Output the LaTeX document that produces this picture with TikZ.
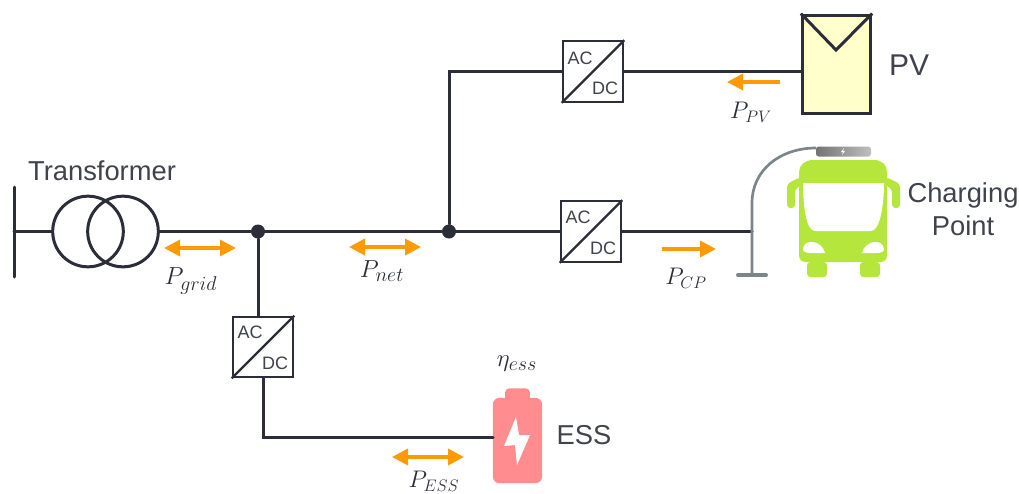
\documentclass[tikz,border=0pt]{standalone}
\usepackage{fix-cm}
\usepackage{xcolor}
\usepackage{amsmath}
\usepackage{fontspec}
\setmainfont{Liberation Sans}
\usetikzlibrary{arrows.meta,positioning}
\DeclareMathSizes{18}{18}{12.5}{10}
\DeclareMathSizes{18.5}{18.5}{15}{11}
\definecolor{wireink}{HTML}{2B2D38}
\definecolor{flowbrand}{HTML}{FF9A05}
\definecolor{busbrand}{HTML}{B5E63C}
\definecolor{essbrand}{HTML}{FF8C8F}
\definecolor{pvbrand}{HTML}{FFFFCC}
\definecolor{polegray}{HTML}{7C858A}

\begin{document}
\begin{tikzpicture}[
  x=0.75pt, y=-0.75pt,
  wire/.style={draw=wireink, line width=2.25pt, line cap=round},
  diag/.style={draw=wireink, line width=1.7pt},
  coil/.style={circle, draw=wireink, line width=2.25pt, minimum size=53pt, inner sep=0pt},
  joint/.style={circle, fill=wireink, minimum size=10.5pt, inner sep=0pt},
  conv/.style={draw=wireink, line width=1.5pt, fill=white, minimum size=45.5pt, inner sep=0pt},
  convtext/.style={text=wireink!90, font=\fontsize{13.5pt}{15pt}\selectfont, inner sep=0pt},
  devname/.style={text=wireink!90, font=\fontsize{20.5pt}{24pt}\selectfont, inner sep=0pt, align=center},
  capslabel/.style={text=wireink, font=\fontsize{18pt}{20pt}\selectfont, inner sep=0pt},
  lowerlabel/.style={text=wireink, font=\fontsize{18.5pt}{20pt}\selectfont, inner sep=0pt},
  oneway/.style={-{Triangle[length=12pt, width=12pt]}, draw=flowbrand, line width=2.6pt},
  twoway/.style={{Triangle[length=12pt, width=12pt]}-{Triangle[length=12pt, width=12pt]}, draw=flowbrand, line width=2.6pt}
]
\useasboundingbox (0,0) rectangle (1019,493);

\node[coil] (coilA) at (88,231.5) {};
\node[coil] (coilB) at (123,231.5) {};
\coordinate (busTop) at (14,187);
\coordinate (busBot) at (14,277);
\coordinate (busTap) at (14,231.5);
\node[devname] (trafoName) at (102,171) {Transformer};

\node[joint] (jointGrid) at (258,231.5) {};
\node[joint] (jointNet) at (449,231.5) {};

\node[conv] (convPV) at (593,71.5) {};
\node[convtext] (acPV) at (580,58) {AC};
\node[convtext] (dcPV) at (605,88) {DC};
\node[conv] (convCP) at (591,231.5) {};
\node[convtext] (acCP) at (578,217) {AC};
\node[convtext] (dcCP) at (603,248) {DC};
\node[conv] (convESS) at (263,347) {};
\node[convtext] (acESS) at (250,332) {AC};
\node[convtext] (dcESS) at (275,363) {DC};

\node[draw=wireink, line width=2.4pt, fill=pvbrand, minimum width=51pt, minimum height=74pt, inner sep=0pt] (pv) at (836.5,64.5) {};
\coordinate (pvTip) at (836,50);
\node[devname, font=\fontsize{22.5pt}{24pt}\selectfont] (pvName) at (909,65) {PV};

% charging point
\coordinate (poleFoot) at (752,275);
\coordinate (poleTap) at (752,231.5);
\coordinate (baseL) at (738,275);
\coordinate (baseR) at (766,275);
\coordinate (headIn) at (816,148);
\shade[left color=black!55, right color=black!25, rounded corners=2pt] (816,146.5) rectangle (871,156.5);
\fill[white] (844,148) -- (841,152) -- (843,152) -- (842,155) -- (845,151) -- (843,151) -- cycle;

% bus
\fill[busbrand] (799,172) .. controls (799,165) and (805,160) .. (813,160) -- (874,160)
  .. controls (882,160) and (887,165) .. (887,172) -- (887,255)
  .. controls (887,260) and (884,262) .. (880,262) -- (806,262)
  .. controls (802,262) and (799,260) .. (799,255) -- cycle;
\fill[busbrand, rounded corners=2.5pt] (800,177) -- (787,184) -- (787,208) -- (795,208) -- (795,189) -- (802,185) -- cycle;
\fill[busbrand, rounded corners=2.5pt] (886,177) -- (900,184) -- (900,208) -- (892,208) -- (892,189) -- (885,185) -- cycle;
\fill[busbrand, rounded corners=2.5pt] (807,262) rectangle (827,277);
\fill[busbrand, rounded corners=2.5pt] (860,262) rectangle (880,277);
\fill[white] (803,183) -- (884,183) .. controls (884,205) and (880,231) .. (871,231) -- (815,231)
  .. controls (806,231) and (803,205) .. (803,183) -- cycle;
\fill[white] (803,249) .. controls (804,238) and (822,240) .. (825,253) -- (811,253) .. controls (806,253) and (803,252) .. (803,249) -- cycle;
\fill[white] (884,249) .. controls (883,238) and (865,240) .. (862,253) -- (876,253) .. controls (881,253) and (884,252) .. (884,249) -- cycle;
\node[devname] (cpName) at (963,209) {Charging\\[1pt]Point};

% battery
\node[fill=essbrand, rounded corners=3pt, minimum width=18.5pt, minimum height=10pt, inner sep=0pt] (essCap) at (517.5,395) {};
\node[fill=essbrand, rounded corners=5pt, minimum width=37pt, minimum height=64pt, inner sep=0pt] (ess) at (517.5,440.5) {};
\fill[white] (516,417) -- (504,446) -- (515,445) -- (517,465) -- (530,435) -- (519,435) -- cycle;
\coordinate (essTap) at (493,437);
\node[devname] (essName) at (584,435) {ESS};
\node[lowerlabel] (etaESS) at (517,364) {$\eta_{ess}$};

\coordinate (gridA) at (164,248);
\coordinate (gridB) at (236,248);
\coordinate (netA) at (349,247);
\coordinate (netB) at (421,247);
\coordinate (cpA) at (662,249);
\coordinate (cpB) at (716,249);
\coordinate (pvA) at (780,82);
\coordinate (pvB) at (727,82);
\coordinate (essA) at (392,457);
\coordinate (essB) at (464,457);

\node[lowerlabel] (labelGrid) at (191,281) {$P_{grid}$};
\node[lowerlabel] (labelNet) at (382,271) {$P_{net}$};
\node[capslabel] (labelCP) at (686,278) {$P_{CP}$};
\node[capslabel] (labelPV) at (751,112) {$P_{PV}$};
\node[capslabel] (labelESS) at (434,481) {$P_{ESS}$};

\draw[wire] (busTop) -- (busBot);
\draw[wire] (busTap) -- (coilA.west);
\draw[wire] (coilB.east) -- (jointGrid);
\draw[wire] (jointGrid) -- (jointNet);
\draw[wire] (jointNet) -- (convCP.west);
\draw[wire] (jointNet) |- (convPV.west);
\draw[wire] (convPV.east) -- (convPV.east -| pv.west);
\draw[wire] (convCP.east) -- (poleTap);
\draw[wire] (jointGrid) -- (jointGrid |- convESS.north);
\draw[wire] (convESS.south) |- (essTap);
\draw[diag] (convPV.south west) -- (convPV.north east);
\draw[diag] (convCP.south west) -- (convCP.north east);
\draw[diag] (convESS.south west) -- (convESS.north east);
\draw[wire, line cap=butt] (pv.north west) -- (pvTip) -- (pv.north east);
\draw[draw=polegray, line width=2pt] (poleFoot) -- (752,203) .. controls (752,170) and (780,148) .. (headIn);
\draw[draw=polegray, line width=3pt, line cap=round] (baseL) -- (baseR);

\draw[twoway] (gridA) -- (gridB);
\draw[twoway] (netA) -- (netB);
\draw[oneway] (cpA) -- (cpB);
\draw[oneway] (pvA) -- (pvB);
\draw[twoway] (essA) -- (essB);
\end{tikzpicture}
\end{document}
